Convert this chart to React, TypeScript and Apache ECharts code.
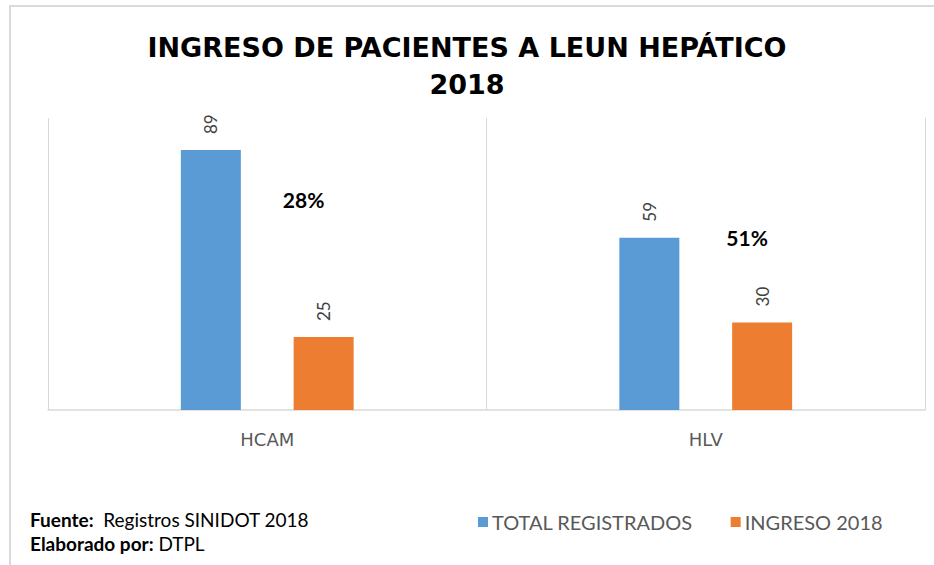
import { useEffect, useRef } from "react";
import * as echarts from "echarts";

const categories = ["HCAM", "HLV"];
const totalRegistrados = [89, 59];
const ingreso2018 = [25, 30];
const percentLevels = [72, 59];
const seriesNames = ["TOTAL REGISTRADOS", "INGRESO 2018"];
const titleLines = ["INGRESO DE PACIENTES A LEUN HEPÁTICO", "2018"];
const sourceLines = [
  ["Fuente:", "  Registros SINIDOT 2018"],
  ["Elaborado por:", " DTPL"],
];

const FONT = "Lato, 'Open Sans', sans-serif";
const WIDE = "'DejaVu Sans', sans-serif";

export default function App() {
  const ref = useRef<HTMLDivElement>(null);
  useEffect(() => {
    if (!ref.current) return;
    const chart = echarts.init(ref.current, undefined, { renderer: "svg" });
    const pctOffsets = [-20, -15];
    const option = {
      animation: false,
      backgroundColor: "#ffffff",
      textStyle: { fontFamily: FONT },
      title: {
        text: titleLines.join("\n"),
        left: "center",
        top: 24,
        padding: [5, 0, 5, 14],
        textStyle: {
          fontFamily: WIDE,
          fontSize: 27,
          fontWeight: "bold",
          color: "#000000",
          lineHeight: 37,
        },
      },
      legend: {
        left: 473,
        top: 507,
        itemWidth: 10,
        itemHeight: 10,
        itemGap: 38,
        icon: "rect",
        data: seriesNames,
        textStyle: { fontFamily: FONT, fontSize: 20, color: "#595959", padding: [0, 0, 0, -1] },
      },
      grid: { left: 48, right: 9, top: 118, bottom: 155 },
      xAxis: {
        type: "category",
        data: categories,
        axisLine: { lineStyle: { color: "#d9d9d9", width: 1.5 } },
        axisTick: { show: false },
        axisLabel: { color: "#595959", fontSize: 18, margin: 20, fontFamily: WIDE },
        splitLine: { show: true, lineStyle: { color: "#d9d9d9", width: 1 } },
      },
      yAxis: {
        type: "value",
        min: 0,
        max: 100,
        show: false,
        splitLine: { show: false },
      },
      series: [
        {
          name: seriesNames[0],
          type: "bar",
          data: totalRegistrados,
          barWidth: 60,
          barGap: "88%",
          itemStyle: { color: "#5b9bd5" },
          label: {
            show: true,
            position: "top",
            rotate: 90,
            align: "left",
            verticalAlign: "middle",
            distance: 16,
            fontSize: 17,
            color: "#404040",
            fontFamily: FONT,
          },
        },
        {
          name: seriesNames[1],
          type: "bar",
          data: ingreso2018,
          barWidth: 60,
          itemStyle: { color: "#ed7d31" },
          label: {
            show: true,
            position: "top",
            rotate: 90,
            align: "left",
            verticalAlign: "middle",
            distance: 16,
            fontSize: 17,
            color: "#404040",
            fontFamily: FONT,
          },
          markPoint: {
            symbol: "rect",
            symbolSize: 1,
            itemStyle: { color: "rgba(0,0,0,0)" },
            data: categories.map((c, i) => ({
              name: Math.round((ingreso2018[i] / totalRegistrados[i]) * 100) + "%",
              coord: [c, percentLevels[i]],
              label: { offset: [pctOffsets[i], 0] },
            })),
            label: {
              show: true,
              position: "inside",
              formatter: "{b}",
              fontSize: 21,
              fontWeight: "bold",
              color: "#000000",
              fontFamily: FONT,
            },
          },
        },
      ],
      graphic: [
        {
          type: "line",
          shape: { x1: 9, y1: 6, x2: 934, y2: 6 },
          style: { stroke: "#d9d9d9", lineWidth: 2 },
        },
        {
          type: "line",
          shape: { x1: 10, y1: 5, x2: 10, y2: 565 },
          style: { stroke: "#d9d9d9", lineWidth: 2 },
        },
        {
          type: "text",
          left: 30,
          top: 507,
          style: {
            text: sourceLines.map((l) => `{b|${l[0]}}{n|${l[1]}}`).join("\n"),
            fontFamily: FONT,
            fontSize: 19,
            lineHeight: 24,
            fill: "#000000",
            rich: {
              b: { fontWeight: "bold", fontSize: 19, fontFamily: FONT, lineHeight: 24 },
              n: { fontSize: 19, fontFamily: FONT, lineHeight: 24 },
            },
          },
        },
      ],
    };
    chart.setOption(option as any);
    return () => chart.dispose();
  }, []);
  return (
    <div
      ref={ref}
      style={{ position: "fixed", left: 0, top: 0, width: 934, height: 565, background: "#fff" }}
    />
  );
}
